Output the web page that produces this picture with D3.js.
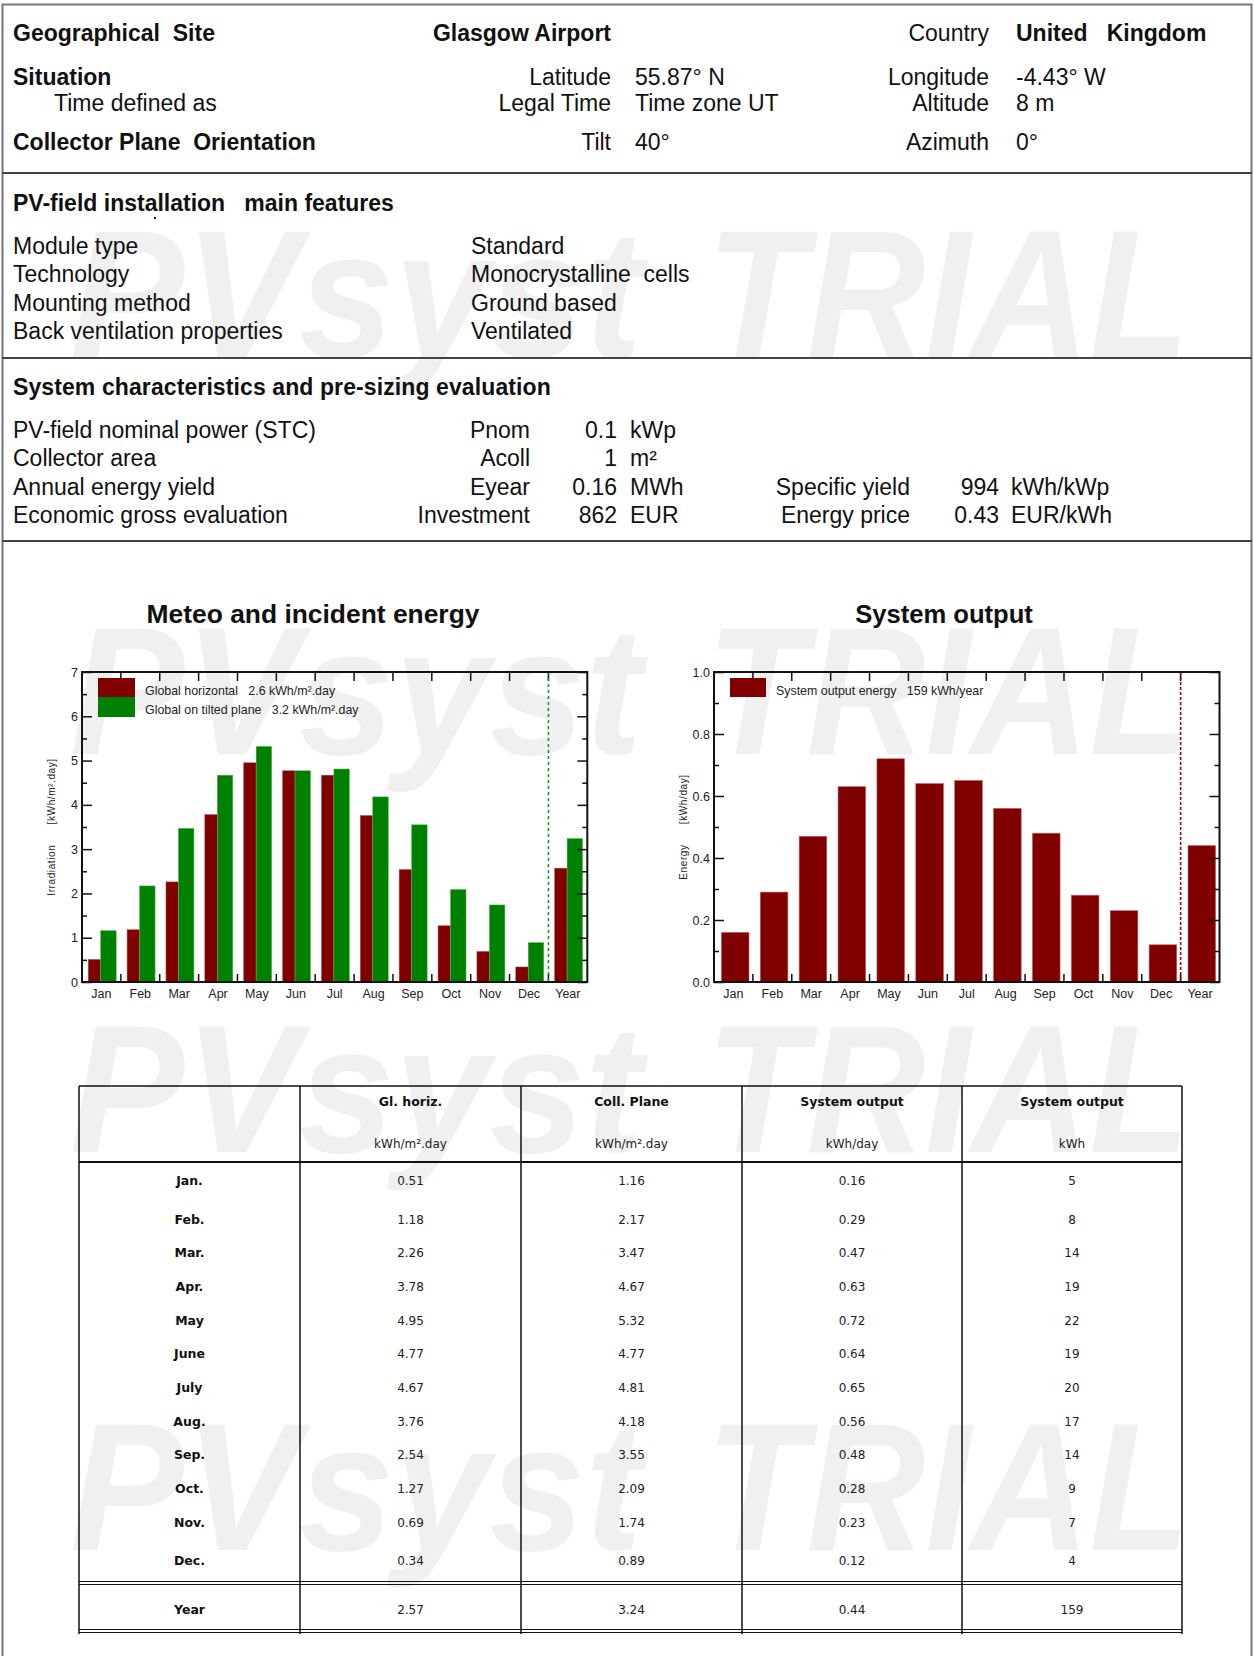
<!DOCTYPE html>
<html>
<head>
<meta charset="utf-8">
<script src="https://cdn.jsdelivr.net/npm/d3@7"></script>
<style>
  body { margin: 0; background: #fff; }
  svg text { white-space: pre; }
</style>
</head>
<body>
<svg id="page"></svg>
<script>
// ---- data ----
var months = ["Jan", "Feb", "Mar", "Apr", "May", "Jun", "Jul", "Aug", "Sep", "Oct", "Nov", "Dec", "Year"];
var rowLabels = ["Jan.", "Feb.", "Mar.", "Apr.", "May", "June", "July", "Aug.", "Sep.", "Oct.", "Nov.", "Dec.", "Year"];
var globHor = [0.51, 1.18, 2.26, 3.78, 4.95, 4.77, 4.67, 3.76, 2.54, 1.27, 0.69, 0.34, 2.57];
var globInc = [1.16, 2.17, 3.47, 4.67, 5.32, 4.77, 4.81, 4.18, 3.55, 2.09, 1.74, 0.89, 3.24];
var outDay = [0.16, 0.29, 0.47, 0.63, 0.72, 0.64, 0.65, 0.56, 0.48, 0.28, 0.23, 0.12, 0.44];
var outKwh = [5, 8, 14, 19, 22, 19, 20, 17, 14, 9, 7, 4, 159];
var irrTicks = [0, 1, 2, 3, 4, 5, 6, 7];
var energyTicks = [0, 0.2, 0.4, 0.6, 0.8, 1.0];
var colHeads = ["", "Gl. horiz.", "Coll. Plane", "System output", "System output"];
var colUnits = ["", "kWh/m\u00b2.day", "kWh/m\u00b2.day", "kWh/day", "kWh"];

var siteRows = [
  ["Geographical  Site", "Glasgow Airport", "", "Country", "United   Kingdom"],
  ["Situation", "Latitude", "55.87\u00b0 N", "Longitude", "-4.43\u00b0 W"],
  ["Time defined as", "Legal Time", "Time zone UT", "Altitude", "8 m"],
  ["Collector Plane  Orientation", "Tilt", "40\u00b0", "Azimuth", "0\u00b0"]
];
var featureRows = [
  ["Module type", "Standard"],
  ["Technology", "Monocrystalline  cells"],
  ["Mounting method", "Ground based"],
  ["Back ventilation properties", "Ventilated"]
];
var sysRows = [
  ["PV-field nominal power (STC)", "Pnom", "0.1", "kWp", "", "", ""],
  ["Collector area", "Acoll", "1", "m\u00b2", "", "", ""],
  ["Annual energy yield", "Eyear", "0.16", "MWh", "Specific yield", "994", "kWh/kWp"],
  ["Economic gross evaluation", "Investment", "862", "EUR", "Energy price", "0.43", "EUR/kWh"]
];

var RED = "#800000", GREEN = "#008000";
var SANS = "'Liberation Sans', Arial, sans-serif";
var TBL = "'DejaVu Sans', Verdana, sans-serif";

var svg = d3.select("#page").attr("width", 1254).attr("height", 1656);

function txt(g, x, y, s, size, opts) {
  opts = opts || {};
  return g.append("text")
    .attr("x", x).attr("y", y)
    .attr("font-family", opts.family || SANS)
    .attr("font-size", size)
    .attr("font-weight", opts.bold ? "bold" : "normal")
    .attr("text-anchor", opts.anchor || "start")
    .attr("fill", opts.fill || "#111")
    .text(s);
}

// watermark, behind everything
var wm = svg.append("g");
[357, 754, 1152, 1550].forEach(function(y) {
  wm.append("text").attr("x", 70).attr("y", y)
    .attr("font-family", SANS).attr("font-size", 182)
    .attr("font-weight", "bold").attr("font-style", "italic")
    .attr("fill", "#f0f0f0")
    .attr("textLength", 572).attr("lengthAdjust", "spacingAndGlyphs")
    .text("PVsyst");
  wm.append("text").attr("x", 706).attr("y", y)
    .attr("font-family", SANS).attr("font-size", 182)
    .attr("font-weight", "bold").attr("font-style", "italic")
    .attr("fill", "#f0f0f0")
    .attr("textLength", 484).attr("lengthAdjust", "spacingAndGlyphs")
    .text("TRIAL");
});

// page frame and separators
svg.append("path")
  .attr("d", "M2.5,1656 V4.5 H1251.5 V1656")
  .attr("fill", "none").attr("stroke", "#777").attr("stroke-width", 2);
[173, 358, 541].forEach(function(y) {
  svg.append("line").attr("x1", 2).attr("x2", 1252).attr("y1", y).attr("y2", y)
    .attr("stroke", "#444").attr("stroke-width", 2);
});

// ---- header block ----
var hdr = svg.append("g");
var FS = 23;
var siteY = [41, 85, 111, 150];
siteRows.forEach(function(r, i) {
  txt(hdr, i === 2 ? 54 : 13, siteY[i], r[0], FS, { bold: i !== 2 });
  txt(hdr, 611, siteY[i], r[1], FS, { anchor: "end", bold: i === 0 });
  txt(hdr, 635, siteY[i], r[2], FS);
  txt(hdr, 989, siteY[i], r[3], FS, { anchor: "end" });
  txt(hdr, 1016, siteY[i], r[4], FS, { bold: i === 0 });
});

txt(hdr, 13, 211, "PV-field installation   main features", FS, { bold: true });
hdr.append("circle").attr("cx", 155).attr("cy", 218).attr("r", 1.2).attr("fill", "#222");
featureRows.forEach(function(r, i) {
  var y = 254 + i * 28.3;
  txt(hdr, 13, y, r[0], FS);
  txt(hdr, 471, y, r[1], FS);
});

txt(hdr, 13, 395, "System characteristics and pre-sizing evaluation", FS, { bold: true })
  .attr("letter-spacing", 0.1);
sysRows.forEach(function(r, i) {
  var y = 438 + i * 28.3;
  txt(hdr, 13, y, r[0], FS);
  txt(hdr, 530, y, r[1], FS, { anchor: "end" });
  txt(hdr, 617, y, r[2], FS, { anchor: "end" });
  txt(hdr, 630, y, r[3], FS);
  txt(hdr, 910, y, r[4], FS, { anchor: "end" });
  txt(hdr, 999, y, r[5], FS, { anchor: "end" });
  txt(hdr, 1011, y, r[6], FS);
});

// ---- bar charts ----
var fmt1 = d3.format(".1f");
var plotTop = 672, plotBottom = 982;
var TICK_FS = 12.5;

function bareTicks(axis) {
  return function(a) {
    a.call(axis);
    a.select(".domain").remove();
    a.selectAll("text").remove();
  };
}

function frameChart(g, x, y, majorTicks, minorTicks, fmt, yTitle, titleX, titleSize, dashColor, dashArr, title) {
  var left = x.range()[0], right = x.range()[1];
  txt(g, titleX, 623, title, titleSize, { bold: true, anchor: "middle" });

  // y ticks, inward on both sides
  g.append("g").attr("transform", "translate(" + left + ",0)")
    .call(d3.axisLeft(y).tickValues(majorTicks).tickSize(-10).tickPadding(4).tickFormat(fmt))
    .call(function(a) { a.select(".domain").remove(); });
  g.append("g").attr("transform", "translate(" + left + ",0)")
    .call(bareTicks(d3.axisLeft(y).tickValues(minorTicks).tickSize(-5)));
  g.append("g").attr("transform", "translate(" + right + ",0)")
    .call(bareTicks(d3.axisRight(y).tickValues(majorTicks).tickSize(-10)));
  g.append("g").attr("transform", "translate(" + right + ",0)")
    .call(bareTicks(d3.axisRight(y).tickValues(minorTicks).tickSize(-5)));

  // x ticks at slot boundaries, labels centred
  var bounds = months.slice(1).map(function(m) { return x(m); });
  g.selectAll(null).data(bounds).enter().append("line")
    .attr("x1", function(d) { return d; }).attr("x2", function(d) { return d; })
    .attr("y1", plotTop).attr("y2", plotTop + 9).attr("stroke", "#111").attr("stroke-width", 1.5);
  g.selectAll(null).data(bounds).enter().append("line")
    .attr("x1", function(d) { return d; }).attr("x2", function(d) { return d; })
    .attr("y1", plotBottom).attr("y2", plotBottom - 8).attr("stroke", "#111").attr("stroke-width", 1.5);
  g.selectAll(null).data(months).enter().append("text")
    .attr("x", function(d) { return x(d) + x.bandwidth() / 2; })
    .attr("y", 998).attr("text-anchor", "middle")
    .attr("font-family", SANS).attr("font-size", TICK_FS).attr("fill", "#222")
    .text(function(d) { return d; });

  g.selectAll(".tick line").attr("stroke", "#111").attr("stroke-width", 1.5);
  g.selectAll(".tick text").attr("font-family", SANS).attr("font-size", TICK_FS).attr("fill", "#222");

  // dashed separator before "Year"
  g.append("line").attr("x1", x("Year")).attr("x2", x("Year"))
    .attr("y1", plotTop).attr("y2", plotBottom)
    .attr("stroke", dashColor).attr("stroke-width", 1.6).attr("stroke-dasharray", dashArr);

  g.append("rect").attr("x", left).attr("y", plotTop)
    .attr("width", right - left).attr("height", plotBottom - plotTop)
    .attr("fill", "none").attr("stroke", "#111").attr("stroke-width", 2);

  g.append("text")
    .attr("transform", "translate(" + (left - 27) + "," + ((plotTop + plotBottom) / 2) + ") rotate(-90)")
    .attr("text-anchor", "middle").attr("font-family", SANS).attr("font-size", 10)
    .attr("letter-spacing", 0.6).attr("fill", "#222")
    .text(yTitle);
}

// left chart: meteo and incident energy
var gL = svg.append("g");
var xL = d3.scaleBand().domain(months).range([82, 587.3]);
var yL = d3.scaleLinear().domain([0, 7]).range([plotBottom, plotTop]);
var bwL = xL.bandwidth();

gL.selectAll(".hor").data(globHor).enter().append("rect")
  .attr("x", function(d, i) { return xL(months[i]) + bwL * 0.16; })
  .attr("width", bwL * 0.32)
  .attr("y", function(d) { return yL(d); })
  .attr("height", function(d) { return yL(0) - yL(d); })
  .attr("fill", RED).attr("stroke", "#b85050").attr("stroke-width", 0.5);
gL.selectAll(".inc").data(globInc).enter().append("rect")
  .attr("x", function(d, i) { return xL(months[i]) + bwL * 0.48; })
  .attr("width", bwL * 0.40)
  .attr("y", function(d) { return yL(d); })
  .attr("height", function(d) { return yL(0) - yL(d); })
  .attr("fill", GREEN).attr("stroke", "#5cb85c").attr("stroke-width", 0.5);

frameChart(gL, xL, yL, irrTicks, d3.range(0.5, 7, 1), d3.format("d"),
  "Irradiation      [kWh/m\u00b2.day]", 313, 26.4, "#1a9a1a", "3,3", "Meteo and incident energy");

gL.append("rect").attr("x", 98).attr("y", 678).attr("width", 37).attr("height", 19).attr("fill", RED);
gL.append("rect").attr("x", 98).attr("y", 697).attr("width", 37).attr("height", 20).attr("fill", GREEN);
txt(gL, 145, 695, "Global horizontal   " + fmt1(globHor[12]) + " kWh/m\u00b2.day", 12.4, { fill: "#222" });
txt(gL, 145, 714, "Global on tilted plane   " + fmt1(globInc[12]) + " kWh/m\u00b2.day", 12.4, { fill: "#222" });

// right chart: system output
var gR = svg.append("g");
var xR = d3.scaleBand().domain(months).range([714, 1219.5]);
var yR = d3.scaleLinear().domain([0, 1]).range([plotBottom, plotTop]);
var bwR = xR.bandwidth();

gR.selectAll(".out").data(outDay).enter().append("rect")
  .attr("x", function(d, i) { return xR(months[i]) + bwR * 0.19; })
  .attr("width", bwR * 0.71)
  .attr("y", function(d) { return yR(d); })
  .attr("height", function(d) { return yR(0) - yR(d); })
  .attr("fill", RED).attr("stroke", "#c06060").attr("stroke-width", 0.6);

frameChart(gR, xR, yR, energyTicks, d3.range(0.1, 1, 0.2), d3.format(".1f"),
  "Energy      [kWh/day]", 944, 25.6, "#a00000", "3,2", "System output");

gR.append("rect").attr("x", 730).attr("y", 678).attr("width", 36).attr("height", 19).attr("fill", RED);
txt(gR, 776, 695, "System output energy   " + outKwh[12] + " kWh/year", 12.4, { fill: "#222" });

// ---- monthly table ----
var gT = svg.append("g");
var colX = [79, 300, 521, 742, 962, 1182];
var tTop = 1086, tHead = 1162, tYear = 1583, tBot = 1631;
function rowY(i) {
  if (i === 0) return 1180;
  if (i === 11) return 1560;
  if (i === 12) return 1609;
  return 1219 + (i - 1) * 33.7;
}

colHeads.forEach(function(h, c) {
  if (c === 0) return;
  var cx = (colX[c] + colX[c + 1]) / 2;
  txt(gT, cx, 1106, h, 12.5, { family: TBL, bold: true, anchor: "middle" });
  txt(gT, cx, 1148, colUnits[c], 12, { family: TBL, anchor: "middle", fill: "#222" });
});

var f2 = d3.format(".2f");
rowLabels.forEach(function(lab, i) {
  var y = rowY(i) + 4.5;
  var vals = [f2(globHor[i]), f2(globInc[i]), f2(outDay[i]), String(outKwh[i])];
  txt(gT, (colX[0] + colX[1]) / 2, y, lab, 12.5, { family: TBL, bold: true, anchor: "middle" });
  vals.forEach(function(v, c) {
    txt(gT, (colX[c + 1] + colX[c + 2]) / 2, y, v, 12, { family: TBL, anchor: "middle", fill: "#222" });
  });
});

function hline(y, w) {
  gT.append("line").attr("x1", colX[0]).attr("x2", colX[5]).attr("y1", y).attr("y2", y)
    .attr("stroke", "#111").attr("stroke-width", w);
}
hline(tTop, 1.5);
hline(tHead, 2);
hline(tYear - 1.5, 1.2);
hline(tYear + 1.5, 1.2);
hline(tBot - 1.5, 1.2);
hline(tBot + 1.5, 1.2);
colX.forEach(function(x) {
  gT.append("line").attr("x1", x).attr("x2", x).attr("y1", tTop).attr("y2", tBot + 3)
    .attr("stroke", "#111").attr("stroke-width", 1.5);
});
</script>
</body>
</html>
